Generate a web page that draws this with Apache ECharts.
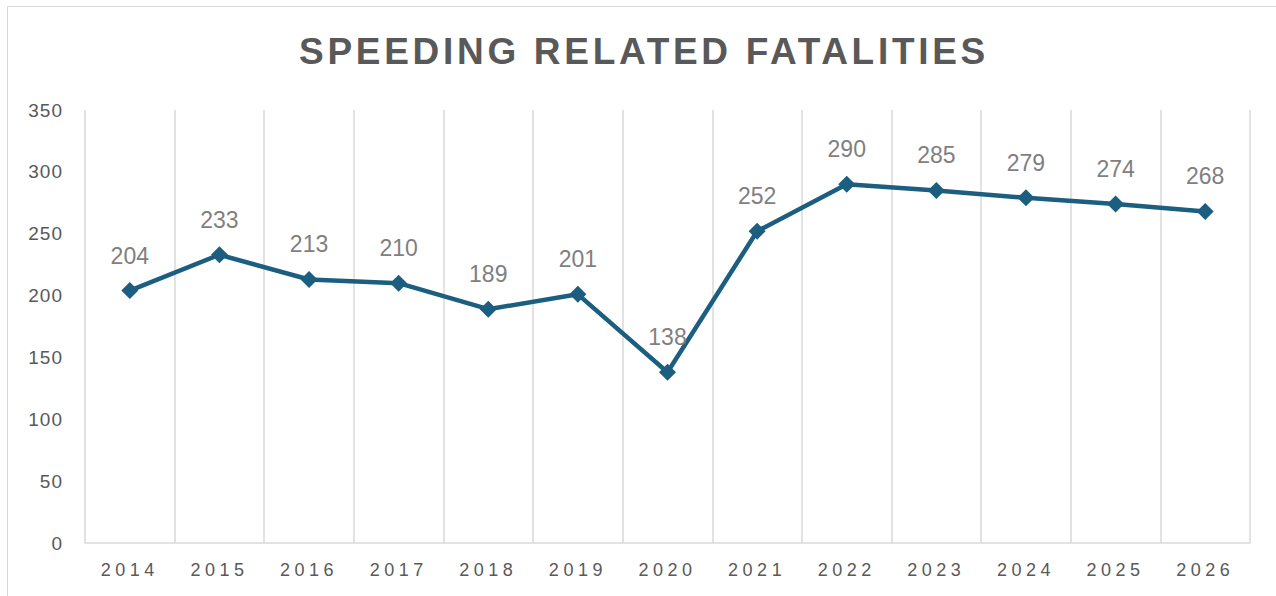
<!DOCTYPE html>
<html>
<head>
<meta charset="utf-8">
<script src="https://cdn.jsdelivr.net/npm/echarts@6/dist/echarts.min.js"></script>
<style>
  html, body { margin: 0; padding: 0; background: #fff; }
  #frame { position: absolute; left: 7px; top: 6px; width: 1300px; height: 620px; border: 1px solid #d9d9d9; box-sizing: border-box; }
  #chart { position: absolute; left: 0; top: 0; width: 1276px; height: 596px; }
  /* letter spacing: title, year labels, value axis labels */
  #chart svg text[style*="37px"] { letter-spacing: 3.7px; }
  #chart svg text[style*="18px"] { letter-spacing: 4.5px; }
  #chart svg text[style*="19px"] { letter-spacing: 1px; }
</style>
</head>
<body>
<div id="frame"></div>
<div id="chart"></div>
<script>
const years = ["2014", "2015", "2016", "2017", "2018", "2019", "2020", "2021", "2022", "2023", "2024", "2025", "2026"];
const fatalities = [204, 233, 213, 210, 189, 201, 138, 252, 290, 285, 279, 274, 268];
const yTicks = { min: 0, max: 350, interval: 50 };

let myChart = echarts.init(document.getElementById("chart"), null, { renderer: "svg" });
let option = {
  animation: false,
  title: {
    text: "SPEEDING RELATED FATALITIES",
    left: 639,
    top: 28,
    textAlign: "center",
    textStyle: { fontFamily: "Liberation Sans", fontSize: 37, fontWeight: "bold", color: "#595959" }
  },
  grid: { left: 85, right: 26, top: 110, bottom: 53, containLabel: false },
  xAxis: {
    type: "category",
    data: years,
    boundaryGap: true,
    axisLine: { show: true, lineStyle: { color: "#d9d9d9", width: 1.5 } },
    axisTick: { show: false },
    splitLine: { show: true, lineStyle: { color: "#d9d9d9", width: 1.5 } },
    axisLabel: { fontFamily: "Liberation Sans", fontSize: 18, color: "#595959", margin: 18 }
  },
  yAxis: {
    type: "value",
    min: yTicks.min,
    max: yTicks.max,
    interval: yTicks.interval,
    axisLine: { show: false },
    axisTick: { show: false },
    splitLine: { show: false },
    axisLabel: { fontFamily: "Liberation Sans", fontSize: 19, color: "#595959", margin: 22 }
  },
  series: [{
    type: "line",
    data: fatalities,
    symbol: "diamond",
    symbolSize: 17,
    lineStyle: { color: "#1b5e80", width: 4.5 },
    itemStyle: { color: "#1b5e80" },
    label: {
      show: true,
      position: "top",
      distance: 15,
      fontFamily: "Liberation Sans",
      fontSize: 23,
      color: "#7f7f7f"
    }
  }]
};
myChart.setOption(option);
</script>
</body>
</html>
